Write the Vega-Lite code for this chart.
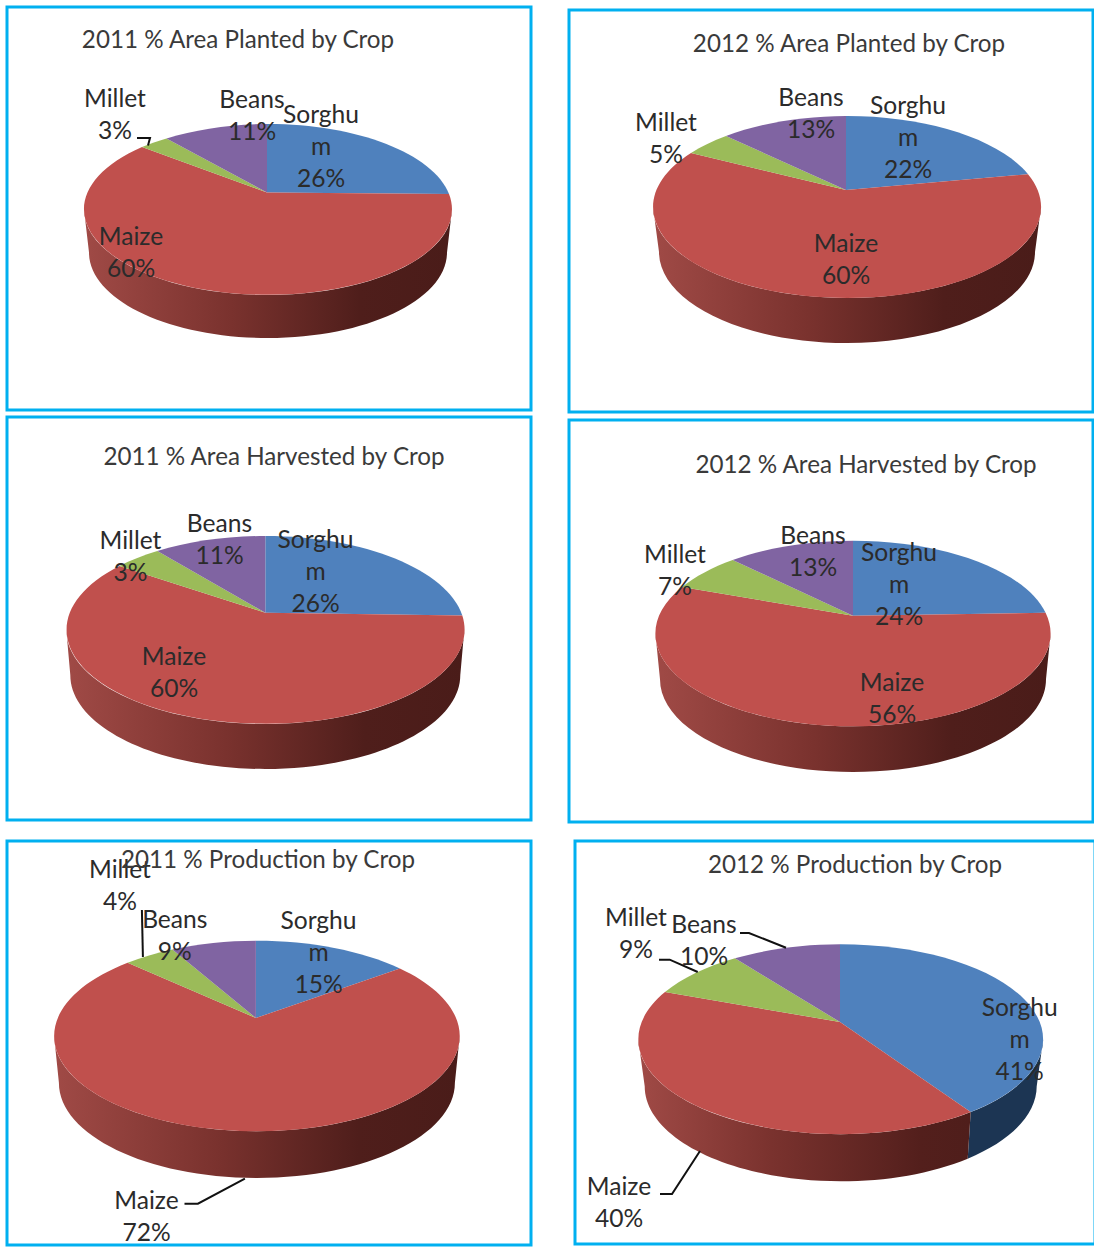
{
"$schema":"https://vega.github.io/schema/vega-lite/v6.json",
"background":"white",
"padding":{"left":5,"top":5,"right":0,"bottom":0},
"config":{"view":{"stroke":null},
"text":{"font":"Lato","fontSize":24.6,"fill":"#2b2b2b","baseline":"middle","align":"center","lineBreak":"\n","lineHeight":32},
"title":{"font":"Lato","fontSize":24.2,"fontWeight":"normal","color":"#3a3a3a","anchor":"middle","frame":"group","baseline":"middle"},
"point":{"filled":true,"opacity":1,"size":4,"strokeWidth":0}},
"datasets":{
"p1":[{"crop":"Sorghum","pct":26,"label":"Sorghu\nm\n26%"},{"crop":"Maize","pct":60,"label":"Maize\n60%"},{"crop":"Millet","pct":3,"label":"Millet\n3%"},{"crop":"Beans","pct":11,"label":"Beans\n11%"}],
"p2":[{"crop":"Sorghum","pct":22,"label":"Sorghu\nm\n22%"},{"crop":"Maize","pct":60,"label":"Maize\n60%"},{"crop":"Millet","pct":5,"label":"Millet\n5%"},{"crop":"Beans","pct":13,"label":"Beans\n13%"}],
"p3":[{"crop":"Sorghum","pct":26,"label":"Sorghu\nm\n26%"},{"crop":"Maize","pct":60,"label":"Maize\n60%"},{"crop":"Millet","pct":3,"label":"Millet\n3%"},{"crop":"Beans","pct":11,"label":"Beans\n11%"}],
"p4":[{"crop":"Sorghum","pct":24,"label":"Sorghu\nm\n24%"},{"crop":"Maize","pct":56,"label":"Maize\n56%"},{"crop":"Millet","pct":7,"label":"Millet\n7%"},{"crop":"Beans","pct":13,"label":"Beans\n13%"}],
"p5":[{"crop":"Sorghum","pct":15,"label":"Sorghu\nm\n15%"},{"crop":"Maize","pct":72,"label":"Maize\n72%"},{"crop":"Millet","pct":4,"label":"Millet\n4%"},{"crop":"Beans","pct":9,"label":"Beans\n9%"}],
"p6":[{"crop":"Sorghum","pct":41,"label":"Sorghu\nm\n41%"},{"crop":"Maize","pct":40,"label":"Maize\n40%"},{"crop":"Millet","pct":9,"label":"Millet\n9%"},{"crop":"Beans","pct":10,"label":"Beans\n10%"}]
},
"vconcat":[
{"spacing":1,"vconcat":[
{"spacing":34,"hconcat":[
{"width":524,"height":403,"view":{"stroke":"#00b0f0","strokeWidth":3,"fill":"white"},"data":{"name":"p1"},
"title":{"text":"2011 % Area Planted by Crop","dx":-31,"offset":-46},
"resolve":{"scale":{"shape":"independent","color":"independent"}},
"layer":[
{"transform":[{"filter":"datum.crop==='Maize'"}],"mark":{"type":"point","xOffset":-1,"yOffset":1,"fill":{"gradient":"linear","x1":0,"y1":0,"x2":1,"y2":0,"stops":[{"offset":0,"color":"#a04a46"},{"offset":0.4,"color":"#7a322e"},{"offset":0.75,"color":"#4f1e1b"},{"offset":1,"color":"#4a1c19"}]}},"encoding":{"shape":{"field":"crop","type":"nominal","legend":null,"scale":{"domain":["Maize"],"range":["M184,0 A184,85.5 0 0 1 -184,0 L-179,43 A179,85.5 0 0 0 179,43 Z"]}}}},
{"mark":{"type":"point","xOffset":-1,"yOffset":1},"encoding":{"color":{"field":"crop","type":"nominal","legend":null,"scale":{"domain":["Sorghum","Maize","Millet","Beans"],"range":["#4f81bd","#c0504d","#9bbb59","#8064a2"]}},"shape":{"field":"crop","type":"nominal","legend":null,"scale":{"domain":["Sorghum","Maize","Millet","Beans"],"range":["M-1,-17 L-1,-85.5 A184,85.5 0 0 1 181,-15.5 Z","M-1,-17 L181,-15.5 A184,85.5 0 1 1 -126,-62.5 Z","M-1,-17 L-126,-62.5 A184,85.5 0 0 1 -101.5,-71 Z","M-1,-17 L-101.5,-71 A184,85.5 0 0 1 -1,-85.5 Z"]}}}},
{"transform":[{"filter":"datum.crop==='Millet'"}],"mark":{"type":"point","filled":false,"stroke":"#111","strokeWidth":2,"xOffset":-1,"yOffset":1},"encoding":{"shape":{"field":"crop","type":"nominal","legend":null,"scale":{"domain":["Millet"],"range":["M-131,-71.5 L-118,-71.5 L-120,-64"]}}}},
{"transform":[{"filter":"datum.crop==='Sorghum'"}],"mark":{"type":"text","dx":52,"dy":-92.5},"encoding":{"text":{"field":"label"}}},
{"transform":[{"filter":"datum.crop==='Maize'"}],"mark":{"type":"text","dx":-138,"dy":29},"encoding":{"text":{"field":"label"}}},
{"transform":[{"filter":"datum.crop==='Millet'"}],"mark":{"type":"text","dx":-154,"dy":-108.5},"encoding":{"text":{"field":"label"}}},
{"transform":[{"filter":"datum.crop==='Beans'"}],"mark":{"type":"text","dx":-17,"dy":-108},"encoding":{"text":{"field":"label"}}}
]},
{"spacing":0,"vconcat":[
{"width":1,"height":1,"data":{"values":[{}]},"mark":{"type":"rule","opacity":0},"encoding":{}},
{"width":524,"height":402,"view":{"stroke":"#00b0f0","strokeWidth":3,"fill":"white"},"data":{"name":"p2"},
"title":{"text":"2012  % Area Planted  by Crop","dx":18,"offset":-47},
"resolve":{"scale":{"shape":"independent","color":"independent"}},
"layer":[
{"transform":[{"filter":"datum.crop==='Maize'"}],"mark":{"type":"point","xOffset":16,"yOffset":-4,"fill":{"gradient":"linear","x1":0,"y1":0,"x2":1,"y2":0,"stops":[{"offset":0,"color":"#a04a46"},{"offset":0.4,"color":"#7a322e"},{"offset":0.75,"color":"#4f1e1b"},{"offset":1,"color":"#4a1c19"}]}},"encoding":{"shape":{"field":"crop","type":"nominal","legend":null,"scale":{"domain":["Maize"],"range":["M194,0 A194,91 0 0 1 -194,0 L-188,45 A188,91 0 0 0 188,45 Z"]}}}},
{"mark":{"type":"point","xOffset":16,"yOffset":-4},"encoding":{"color":{"field":"crop","type":"nominal","legend":null,"scale":{"domain":["Sorghum","Maize","Millet","Beans"],"range":["#4f81bd","#c0504d","#9bbb59","#8064a2"]}},"shape":{"field":"crop","type":"nominal","legend":null,"scale":{"domain":["Sorghum","Maize","Millet","Beans"],"range":["M-1,-17 L-1,-91 A194,91 0 0 1 181,-32.8 Z","M-1,-17 L181,-32.8 A194,91 0 1 1 -156,-54 Z","M-1,-17 L-156,-54 A194,91 0 0 1 -121,-71 Z","M-1,-17 L-121,-71 A194,91 0 0 1 -1,-91 Z"]}}}},
{"transform":[{"filter":"datum.crop==='Sorghum'"}],"mark":{"type":"text","dx":77,"dy":-104.5},"encoding":{"text":{"field":"label"}}},
{"transform":[{"filter":"datum.crop==='Maize'"}],"mark":{"type":"text","dx":15,"dy":34},"encoding":{"text":{"field":"label"}}},
{"transform":[{"filter":"datum.crop==='Millet'"}],"mark":{"type":"text","dx":-165,"dy":-87},"encoding":{"text":{"field":"label"}}},
{"transform":[{"filter":"datum.crop==='Beans'"}],"mark":{"type":"text","dx":-20,"dy":-112.5},"encoding":{"text":{"field":"label"}}}
]}
]}
]},
{"spacing":34,"hconcat":[
{"width":524,"height":403,"view":{"stroke":"#00b0f0","strokeWidth":3,"fill":"white"},"data":{"name":"p3"},
"title":{"text":"2011 % Area Harvested by Crop","dx":5,"offset":-53},
"resolve":{"scale":{"shape":"independent","color":"independent"}},
"layer":[
{"transform":[{"filter":"datum.crop==='Maize'"}],"mark":{"type":"point","xOffset":-3.7,"yOffset":11.5,"fill":{"gradient":"linear","x1":0,"y1":0,"x2":1,"y2":0,"stops":[{"offset":0,"color":"#a04a46"},{"offset":0.4,"color":"#7a322e"},{"offset":0.75,"color":"#4f1e1b"},{"offset":1,"color":"#4a1c19"}]}},"encoding":{"shape":{"field":"crop","type":"nominal","legend":null,"scale":{"domain":["Maize"],"range":["M199,0 A199,94 0 0 1 -199,0 L-195,45 A195,94 0 0 0 195,45 Z"]}}}},
{"mark":{"type":"point","xOffset":-3.7,"yOffset":11.5},"encoding":{"color":{"field":"crop","type":"nominal","legend":null,"scale":{"domain":["Sorghum","Maize","Millet","Beans"],"range":["#4f81bd","#c0504d","#9bbb59","#8064a2"]}},"shape":{"field":"crop","type":"nominal","legend":null,"scale":{"domain":["Sorghum","Maize","Millet","Beans"],"range":["M0,-17.3 L0,-94 A199,94 0 0 1 197,-14.5 Z","M0,-17.3 L197,-14.5 A199,94 0 1 1 -146,-64 Z","M0,-17.3 L-146,-64 A199,94 0 0 1 -108,-79 Z","M0,-17.3 L-108,-79 A199,94 0 0 1 0,-94 Z"]}}}},
{"transform":[{"filter":"datum.crop==='Sorghum'"}],"mark":{"type":"text","dx":46.5,"dy":-77.5},"encoding":{"text":{"field":"label"}}},
{"transform":[{"filter":"datum.crop==='Maize'"}],"mark":{"type":"text","dx":-95,"dy":39.5},"encoding":{"text":{"field":"label"}}},
{"transform":[{"filter":"datum.crop==='Millet'"}],"mark":{"type":"text","dx":-138.5,"dy":-77},"encoding":{"text":{"field":"label"}}},
{"transform":[{"filter":"datum.crop==='Beans'"}],"mark":{"type":"text","dx":-49.5,"dy":-94},"encoding":{"text":{"field":"label"}}}
]},
{"spacing":0,"vconcat":[
{"width":1,"height":1,"data":{"values":[{}]},"mark":{"type":"rule","opacity":0},"encoding":{}},
{"width":524,"height":402,"view":{"stroke":"#00b0f0","strokeWidth":3,"fill":"white"},"data":{"name":"p4"},
"title":{"text":"2012  % Area Harvested by Crop","dx":35,"offset":-58},
"resolve":{"scale":{"shape":"independent","color":"independent"}},
"layer":[
{"transform":[{"filter":"datum.crop==='Maize'"}],"mark":{"type":"point","xOffset":22,"yOffset":12.5,"fill":{"gradient":"linear","x1":0,"y1":0,"x2":1,"y2":0,"stops":[{"offset":0,"color":"#a04a46"},{"offset":0.4,"color":"#7a322e"},{"offset":0.75,"color":"#4f1e1b"},{"offset":1,"color":"#4a1c19"}]}},"encoding":{"shape":{"field":"crop","type":"nominal","legend":null,"scale":{"domain":["Maize"],"range":["M197.6,0 A197.6,92.8 0 0 1 -197.6,0 L-193,45.7 A193,92.8 0 0 0 193,45.7 Z"]}}}},
{"mark":{"type":"point","xOffset":22,"yOffset":12.5},"encoding":{"color":{"field":"crop","type":"nominal","legend":null,"scale":{"domain":["Sorghum","Maize","Millet","Beans"],"range":["#4f81bd","#c0504d","#9bbb59","#8064a2"]}},"shape":{"field":"crop","type":"nominal","legend":null,"scale":{"domain":["Sorghum","Maize","Millet","Beans"],"range":["M0,-17.8 L0,-92.8 A197.6,92.8 0 0 1 192.6,-20.7 Z","M0,-17.8 L192.6,-20.7 A197.6,92.8 0 1 1 -171,-46.5 Z","M0,-17.8 L-171,-46.5 A197.6,92.8 0 0 1 -120.3,-73.6 Z","M0,-17.8 L-120.3,-73.6 A197.6,92.8 0 0 1 0,-92.8 Z"]}}}},
{"transform":[{"filter":"datum.crop==='Sorghum'"}],"mark":{"type":"text","dx":68,"dy":-67.3},"encoding":{"text":{"field":"label"}}},
{"transform":[{"filter":"datum.crop==='Maize'"}],"mark":{"type":"text","dx":61,"dy":62.7},"encoding":{"text":{"field":"label"}}},
{"transform":[{"filter":"datum.crop==='Millet'"}],"mark":{"type":"text","dx":-156,"dy":-65},"encoding":{"text":{"field":"label"}}},
{"transform":[{"filter":"datum.crop==='Beans'"}],"mark":{"type":"text","dx":-18,"dy":-84},"encoding":{"text":{"field":"label"}}}
]}
]}
]}
]},
{"spacing":40,"hconcat":[
{"width":524,"height":404,"view":{"stroke":"#00b0f0","strokeWidth":3,"fill":"white"},"data":{"name":"p5"},
"title":{"text":"2011  % Production by Crop","dx":-1,"offset":-32},
"resolve":{"scale":{"shape":"independent","color":"independent"}},
"layer":[
{"transform":[{"filter":"datum.crop==='Maize'"}],"mark":{"type":"point","xOffset":-12.1,"yOffset":-7,"fill":{"gradient":"linear","x1":0,"y1":0,"x2":1,"y2":0,"stops":[{"offset":0,"color":"#a04a46"},{"offset":0.4,"color":"#7a322e"},{"offset":0.75,"color":"#4f1e1b"},{"offset":1,"color":"#4a1c19"}]}},"encoding":{"shape":{"field":"crop","type":"nominal","legend":null,"scale":{"domain":["Maize"],"range":["M202.8,0 A202.8,95.2 0 0 1 -202.8,0 L-198,46.8 A198,95.2 0 0 0 198,46.8 Z"]}}}},
{"mark":{"type":"point","xOffset":-12.1,"yOffset":-7},"encoding":{"color":{"field":"crop","type":"nominal","legend":null,"scale":{"domain":["Sorghum","Maize","Millet","Beans"],"range":["#4f81bd","#c0504d","#9bbb59","#8064a2"]}},"shape":{"field":"crop","type":"nominal","legend":null,"scale":{"domain":["Sorghum","Maize","Millet","Beans"],"range":["M-1,-18 L-1,-95.2 A202.8,95.2 0 0 1 143,-67.5 Z","M-1,-18 L143,-67.5 A202.8,95.2 0 1 1 -129.3,-73.3 Z","M-1,-18 L-129.3,-73.3 A202.8,95.2 0 0 1 -84.5,-86.5 Z","M-1,-18 L-84.5,-86.5 A202.8,95.2 0 0 1 -1,-95.2 Z"]}}}},
{"transform":[{"filter":"datum.crop==='Millet'||datum.crop==='Maize'"}],"mark":{"type":"point","filled":false,"stroke":"#111","strokeWidth":2,"xOffset":-12.1,"yOffset":-7},"encoding":{"shape":{"field":"crop","type":"nominal","legend":null,"scale":{"domain":["Millet","Maize"],"range":["M-115,-126 L-114,-79","M-72.4,167.7 L-59,167.7 L-12,142.7"]}}}},
{"transform":[{"filter":"datum.crop==='Sorghum'"}],"mark":{"type":"text","dx":49.5,"dy":-121.5},"encoding":{"text":{"field":"label"}}},
{"transform":[{"filter":"datum.crop==='Maize'"}],"mark":{"type":"text","dx":-122.5,"dy":159.4},"encoding":{"text":{"field":"label"}}},
{"transform":[{"filter":"datum.crop==='Millet'"}],"mark":{"type":"text","dx":-149,"dy":-172.5},"encoding":{"text":{"field":"label"}}},
{"transform":[{"filter":"datum.crop==='Beans'"}],"mark":{"type":"text","dx":-94.2,"dy":-122},"encoding":{"text":{"field":"label"}}}
]},
{"width":520,"height":403,"view":{"stroke":"#00b0f0","strokeWidth":3,"fill":"white"},"data":{"name":"p6"},
"title":{"text":"2012 % Production by Crop","dx":20,"offset":-37},
"resolve":{"scale":{"shape":"independent","color":"independent"}},
"layer":[
{"transform":[{"filter":"datum.crop==='Sorghum'"}],"mark":{"type":"point","xOffset":5.7,"yOffset":-3.2,"fill":"#1c3553"},"encoding":{"shape":{"field":"crop","type":"nominal","legend":null,"scale":{"domain":["Sorghum"],"range":["M202.5,0 A202.5,95 0 0 1 130,72.8 L127,119.4 A196,95 0 0 0 196,47 Z"]}}}},
{"transform":[{"filter":"datum.crop==='Maize'"}],"mark":{"type":"point","xOffset":5.7,"yOffset":-3.2,"fill":{"gradient":"linear","x1":0,"y1":0,"x2":1,"y2":0,"stops":[{"offset":0,"color":"#a04a46"},{"offset":0.4,"color":"#7a322e"},{"offset":0.85,"color":"#531f1c"},{"offset":1,"color":"#4f1e1b"}]}},"encoding":{"shape":{"field":"crop","type":"nominal","legend":null,"scale":{"domain":["Maize"],"range":["M130,72.8 A202.5,95 0 0 1 -202.5,0 L-196,47 A196,95 0 0 0 127,119.4 Z"]}}}},
{"mark":{"type":"point","xOffset":5.7,"yOffset":-3.2},"encoding":{"color":{"field":"crop","type":"nominal","legend":null,"scale":{"domain":["Sorghum","Maize","Millet","Beans"],"range":["#4f81bd","#c0504d","#9bbb59","#8064a2"]}},"shape":{"field":"crop","type":"nominal","legend":null,"scale":{"domain":["Sorghum","Maize","Millet","Beans"],"range":["M-0.7,-17.3 L-0.7,-95 A202.5,95 0 0 1 130,72.8 Z","M-0.7,-17.3 L130,72.8 A202.5,95 0 0 1 -175.7,-47.2 Z","M-0.7,-17.3 L-175.7,-47.2 A202.5,95 0 0 1 -105.7,-81 Z","M-0.7,-17.3 L-105.7,-81 A202.5,95 0 0 1 -0.7,-95 Z"]}}}},
{"transform":[{"filter":"datum.crop!=='Sorghum'"}],"mark":{"type":"point","filled":false,"stroke":"#111","strokeWidth":2,"xOffset":5.7,"yOffset":-3.2},"encoding":{"shape":{"field":"crop","type":"nominal","legend":null,"scale":{"domain":["Beans","Millet","Maize"],"range":["M-100.7,-106.3 L-91.7,-106.3 L-54.7,-91.6","M-181.7,-79.6 L-171,-79.6 L-143,-67.3","M-180.7,154.7 L-168.7,154.7 L-140.7,111.7"]}}}},
{"transform":[{"filter":"datum.crop==='Sorghum'"}],"mark":{"type":"text","dx":184.7,"dy":-33.3},"encoding":{"text":{"field":"label"}}},
{"transform":[{"filter":"datum.crop==='Maize'"}],"mark":{"type":"text","dx":-216,"dy":145},"encoding":{"text":{"field":"label"}}},
{"transform":[{"filter":"datum.crop==='Millet'"}],"mark":{"type":"text","dx":-199,"dy":-123.2},"encoding":{"text":{"field":"label"}}},
{"transform":[{"filter":"datum.crop==='Beans'"}],"mark":{"type":"text","dx":-131,"dy":-116.5},"encoding":{"text":{"field":"label"}}}
]}
]}
],
"spacing":15
}
